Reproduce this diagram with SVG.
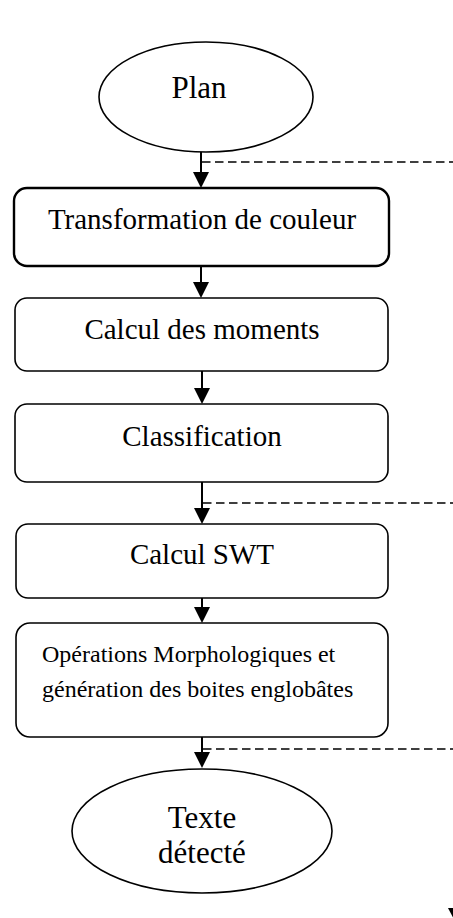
<svg xmlns="http://www.w3.org/2000/svg" width="453" height="918" viewBox="0 0 453 918">
<style>
  .box { fill: #fff; stroke: #000; stroke-width: 1.6; }
  .box.thick { stroke-width: 2.4; }
  .ell { fill: #fff; stroke: #000; stroke-width: 1.6; }
  .t { font-family: "Liberation Serif", "Times New Roman", serif; fill: #000; }
  .big { font-size: 29px; text-anchor: middle; }
  .huge { font-size: 31px; text-anchor: middle; }
  .small { font-size: 24px; }
  .line { stroke: #000; stroke-width: 2; fill: none; }
  .dash { stroke: #000; stroke-width: 1.5; stroke-dasharray: 8.5 4.5; fill: none; }
  .head { fill: #000; }
</style>
<g id="connectors">
  <line class="line" x1="201" y1="152" x2="201" y2="174"/>
  <polygon class="head" points="193,172 209,172 201,188"/>
  <line class="dash" x1="202" y1="162" x2="453" y2="162"/>

  <line class="line" x1="201" y1="266" x2="201" y2="284"/>
  <polygon class="head" points="193,282 209,282 201,298"/>

  <line class="line" x1="202" y1="371" x2="202" y2="390"/>
  <polygon class="head" points="194,388 210,388 202,404"/>

  <line class="line" x1="202" y1="482" x2="202" y2="510"/>
  <polygon class="head" points="194,508 210,508 202,524"/>
  <line class="dash" x1="203" y1="503" x2="453" y2="503"/>

  <line class="line" x1="202" y1="598" x2="202" y2="610"/>
  <polygon class="head" points="194,607 210,607 202,623"/>

  <line class="line" x1="202" y1="737" x2="202" y2="754"/>
  <polygon class="head" points="194,752 210,752 202,768"/>
  <line class="dash" x1="203" y1="749" x2="453" y2="749"/>

  <polygon class="head" points="448,908 464,908 456,923"/>
</g>
<g id="plan">
  <ellipse class="ell" cx="206" cy="97" rx="107" ry="55"/>
  <text class="t huge" x="199" y="98">Plan</text>
</g>
<g id="transformation">
  <rect class="box thick" x="14" y="188" width="375" height="78" rx="13"/>
  <text class="t big" x="202" y="229">Transformation de couleur</text>
</g>
<g id="moments">
  <rect class="box" x="15" y="298" width="373" height="73" rx="12"/>
  <text class="t big" x="202" y="339">Calcul des moments</text>
</g>
<g id="classification">
  <rect class="box" x="15" y="404" width="373" height="78" rx="12"/>
  <text class="t big" x="202" y="446">Classification</text>
</g>
<g id="swt">
  <rect class="box" x="16" y="524" width="372" height="74" rx="12"/>
  <text class="t big" x="202" y="564">Calcul SWT</text>
</g>
<g id="morpho">
  <rect class="box" x="16" y="623" width="372" height="114" rx="14"/>
  <text class="t small" x="42" y="662">Opérations Morphologiques et</text>
  <text class="t small" x="42" y="697">génération des boites englobâtes</text>
</g>
<g id="texte">
  <ellipse class="ell" cx="202" cy="831" rx="130" ry="62"/>
  <text class="t huge" x="202" y="828">Texte</text>
  <text class="t huge" x="202" y="863">détecté</text>
</g>
</svg>
